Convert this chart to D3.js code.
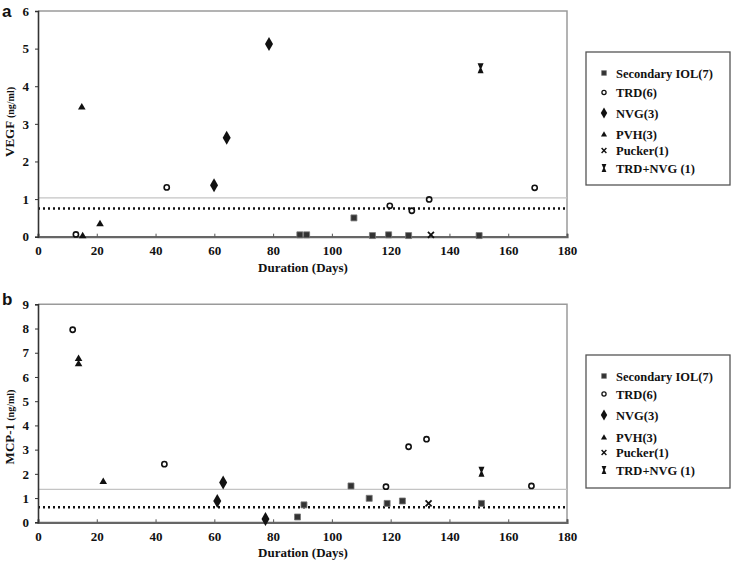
<!DOCTYPE html>
<html>
<head>
<meta charset="utf-8">
<script src="https://cdn.jsdelivr.net/npm/d3@7"></script>
<style>
    body { margin: 0; background: #fff; }
    text { font-family: "Liberation Serif", "Times New Roman", serif; font-weight: bold; fill: #111; }
    .panel-label { font-family: "Liberation Sans", Arial, sans-serif; font-size: 17px; }
</style>
</head>
<body>
<svg id="chart" width="732" height="562"></svg>
<script>
    // groups shown in both panels (legend order)
    const groups = ["Secondary IOL(7)", "TRD(6)", "NVG(3)", "PVH(3)", "Pucker(1)", "TRD+NVG (1)"];
    const groupKeys = ["iol", "trd", "nvg", "pvh", "pucker", "trdnvg"];

    // panel a : VEGF (ng/ml) against duration (days)
    const vegfIol = [[89.1, 0.05], [91.4, 0.05], [107.5, 0.5], [113.8, 0.03], [119.3, 0.05], [126.1, 0.03], [150.1, 0.03]];
    const vegfTrd = [[12.9, 0.06], [43.8, 1.31], [119.7, 0.82], [127.2, 0.69], [133.1, 0.99], [169.0, 1.3]];
    const vegfNvg = [[59.9, 1.37], [64.2, 2.63], [78.6, 5.12]];
    const vegfPvh = [[14.9, 3.46], [15.2, 0.04], [21.1, 0.36]];
    const vegfPucker = [[133.7, 0.05]];
    const vegfTrdNvg = [[150.6, 4.48]];

    // panel b : MCP-1 (ng/ml) against duration (days)
    const mcpIol = [[88.3, 0.22], [90.5, 0.72], [106.5, 1.5], [112.7, 0.99], [118.8, 0.78], [124.0, 0.88], [150.9, 0.78]];
    const mcpTrd = [[11.8, 7.95], [43.0, 2.4], [118.4, 1.47], [126.1, 3.12], [132.2, 3.43], [167.9, 1.5]];
    const mcpNvg = [[61.0, 0.88], [63.0, 1.64], [77.4, 0.14]];
    const mcpPvh = [[13.8, 6.78], [13.8, 6.57], [22.2, 1.71]];
    const mcpPucker = [[132.9, 0.78]];
    const mcpTrdNvg = [[150.9, 2.09]];

    // reference lines (gray solid, black dotted)
    const vegfRef = [1.03, 0.75];
    const mcpRef = [1.36, 0.62];

    const xTicks = [0, 20, 40, 60, 80, 100, 120, 140, 160, 180];

    const svg = d3.select("#chart");

    const shapes = {
        iol: "M-3,-3H3V3H-3Z",
        trd: "M2.6,0A2.6,2.6 0 1,1 -2.6,0A2.6,2.6 0 1,1 2.6,0Z",
        nvg: "M0,-7L4,0L0,7L-4,0Z",
        pvh: "M0,-3.5L3.8,3L-3.8,3Z",
        pucker: "M-3,-3L3,3M3,-3L-3,3",
        trdnvg: "M-3,-5H3L0.9,0L3,5H-3L-0.9,0Z"
    };

    function drawMark(g, key, x, y, s = 1) {
        const p = g.append("path")
            .attr("d", shapes[key])
            .attr("transform", `translate(${x},${y}) scale(${s})`);
        if (key === "trd") {
            p.attr("fill", "none").attr("stroke", "#111").attr("stroke-width", 1.6);
        } else if (key === "pucker") {
            p.attr("fill", "none").attr("stroke", "#111").attr("stroke-width", 1.8);
        } else if (key === "iol") {
            p.attr("fill", "#333").attr("stroke", "#777").attr("stroke-width", 0.8);
        } else {
            p.attr("fill", "#111");
        }
    }

    function drawPanel(opt) {
        const x = d3.scaleLinear().domain([0, 180]).range([38, 567]);
        const y = d3.scaleLinear().domain([0, opt.yMax]).range([opt.bottom, opt.top]);
        const g = svg.append("g");

        // frame: gray top and right
        g.append("path")
            .attr("d", `M${x(0)},${y(opt.yMax)}H${x(180)}V${y(0)}`)
            .attr("fill", "none").attr("stroke", "#9a9a9a").attr("stroke-width", 1.5);

        // reference lines
        g.append("line")
            .attr("x1", x(0)).attr("x2", x(180))
            .attr("y1", y(opt.ref[0])).attr("y2", y(opt.ref[0]))
            .attr("stroke", "#c4c4c4").attr("stroke-width", 1.2);
        g.append("line")
            .attr("x1", x(0)).attr("x2", x(180))
            .attr("y1", y(opt.ref[1])).attr("y2", y(opt.ref[1]))
            .attr("stroke", "#111").attr("stroke-width", 2.5)
            .attr("stroke-dasharray", "2,3");

        // axes
        const xAxis = g.append("g")
            .attr("transform", `translate(0,${y(0)})`)
            .call(d3.axisBottom(x).tickValues(xTicks).tickSize(-3).tickPadding(9));
        xAxis.select(".domain").attr("stroke", "#666").attr("stroke-width", 2.2);
        xAxis.selectAll(".tick line").attr("stroke", "#555");
        xAxis.selectAll("text").attr("font-size", 13).attr("fill", "#111");

        const yAxis = g.append("g")
            .attr("transform", `translate(${x(0)},0)`)
            .call(d3.axisLeft(y).ticks(opt.yMax).tickSize(3).tickPadding(6));
        yAxis.select(".domain").attr("stroke", "#333").attr("stroke-width", 1.6);
        yAxis.selectAll(".tick line").attr("stroke", "#333");
        yAxis.selectAll("text").attr("font-size", 13).attr("fill", "#111");

        // titles
        g.append("text")
            .attr("x", 303).attr("y", opt.bottom + 35)
            .attr("text-anchor", "middle").attr("font-size", 13)
            .text("Duration (Days)");
        const yt = g.append("text")
            .attr("transform", `translate(14,${opt.yTitleY}) rotate(-90)`)
            .attr("text-anchor", "middle").attr("font-size", 13);
        yt.append("tspan").text(opt.yTitle + " ");
        yt.append("tspan").attr("font-size", 10).text("(ng/ml)");

        svg.append("text").attr("class", "panel-label")
            .attr("x", 2).attr("y", opt.labelY).text(opt.label);

        // points
        opt.series.forEach((pts, i) => {
            pts.forEach(d => drawMark(g, groupKeys[i], x(d[0]), y(d[1])));
        });

        // legend
        const lg = svg.append("g");
        lg.append("rect")
            .attr("x", 586).attr("y", opt.legendTop)
            .attr("width", 144).attr("height", 133)
            .attr("fill", "#fff").attr("stroke", "#555").attr("stroke-width", 1.3);
        groups.forEach((name, i) => {
            const ly = opt.legendTop + opt.legendRows[i];
            drawMark(lg, groupKeys[i], 604, ly, 0.8);
            lg.append("text")
                .attr("x", 616).attr("y", ly + 4.5)
                .attr("font-size", 12.5)
                .text(name);
        });
    }

    drawPanel({
        label: "a", labelY: 17,
        top: 11, bottom: 236.7, yMax: 6,
        ref: vegfRef,
        yTitle: "VEGF", yTitleY: 122,
        series: [vegfIol, vegfTrd, vegfNvg, vegfPvh, vegfPucker, vegfTrdNvg],
        legendTop: 52,
        legendRows: [21, 40.5, 61, 82, 98.5, 116]
    });

    drawPanel({
        label: "b", labelY: 305,
        top: 304.3, bottom: 522.3, yMax: 9,
        ref: mcpRef,
        yTitle: "MCP-1", yTitleY: 427,
        series: [mcpIol, mcpTrd, mcpNvg, mcpPvh, mcpPucker, mcpTrdNvg],
        legendTop: 355,
        legendRows: [21, 39, 60, 82, 97.5, 115]
    });
</script>
</body>
</html>
